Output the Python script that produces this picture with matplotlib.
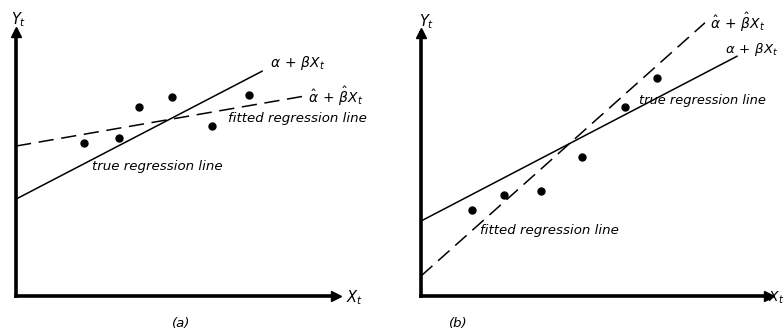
import matplotlib
matplotlib.use("Agg")
import matplotlib.pyplot as plt
import numpy as np

plt.rcParams.update({"font.family": "DejaVu Sans", "mathtext.fontset": "dejavusans"})

# panel (a): observations and the two lines (intercept, slope, x end)
xa = [2.12, 3.22, 3.84, 4.88, 6.12, 7.28]
ya = [5.80, 5.98, 7.16, 7.54, 6.44, 7.61]
true_a = (3.67, 0.63, 7.69)
fit_a = (5.68, 0.21, 9.06)

# panel (b)
xb = [1.47, 2.39, 3.45, 4.63, 5.86, 6.78]
yb = [3.27, 3.84, 3.99, 5.29, 7.19, 8.29]
true_b = (2.85, 0.69, 9.08)
fit_b = (0.76, 1.18, 8.16)

true_lbl = r"$\alpha\, +\, \beta X_t$"
fit_lbl = r"$\hat{\alpha}\, +\, \hat{\beta} X_t$"

W, H = 784, 332
fig = plt.figure(figsize=(W / 100, H / 100), dpi=100)


def panel(left, right, top, xs, ys, true, fit, labels, tag, tagx):
    ax = fig.add_axes([left / W, (H - 296) / H, (right - left) / W, (296 - top) / H])
    ax.set_xlim(0, 10)
    ax.set_ylim(0, 10)
    for s in ["top", "right"]:
        ax.spines[s].set_visible(False)
    for s in ["left", "bottom"]:
        ax.spines[s].set_linewidth(2.6)
    ax.set_xticks([])
    ax.set_yticks([])
    ax.patch.set_alpha(0)
    ax.plot(1, 0, ">k", ms=7, transform=ax.transAxes, clip_on=False)
    ax.plot(0, 1, "^k", ms=7, transform=ax.transAxes, clip_on=False)

    b0, b1, xe = true
    x = np.array([0, xe])
    ax.plot(x, b0 + b1 * x, color="black", lw=1.1, clip_on=False)
    b0, b1, xe = fit
    x = np.array([0, xe])
    ax.plot(x, b0 + b1 * x, color="black", lw=1.1, dashes=(10, 5), clip_on=False)
    ax.plot(xs, ys, "o", color="black", ms=5, clip_on=False)

    for txt, px, py, fs in labels:
        ax.text(px, py, txt, fontsize=fs, style="italic", ha="left", va="center",
                clip_on=False)
    fig.text(tagx / W, 1 - 323 / H, tag, fontsize=9.5, style="italic", ha="center", va="center")
    return ax


panel(16, 336, 32, xa, ya, true_a, fit_a,
      [(true_lbl, 7.94, 8.83, 10), (fit_lbl, 9.12, 7.55, 10),
       ("fitted regression line", 6.62, 6.74, 9.6), ("true regression line", 2.37, 4.89, 9.6),
       (r"$Y_t$", -0.17, 10.45, 10.5), (r"$X_t$", 10.3, -0.05, 10.5)],
      "(a)", 181)

panel(421, 769, 33, xb, yb, true_b, fit_b,
      [(fit_lbl, 8.30, 10.42, 10), (true_lbl, 8.74, 9.39, 9.6),
       ("true regression line", 6.26, 7.45, 9.4), ("fitted regression line", 1.70, 2.5, 9.6),
       (r"$Y_t$", -0.07, 10.45, 10.5), (r"$X_t$", 9.98, -0.05, 10)],
      "(b)", 458)

fig.savefig("out.png", dpi=100)
